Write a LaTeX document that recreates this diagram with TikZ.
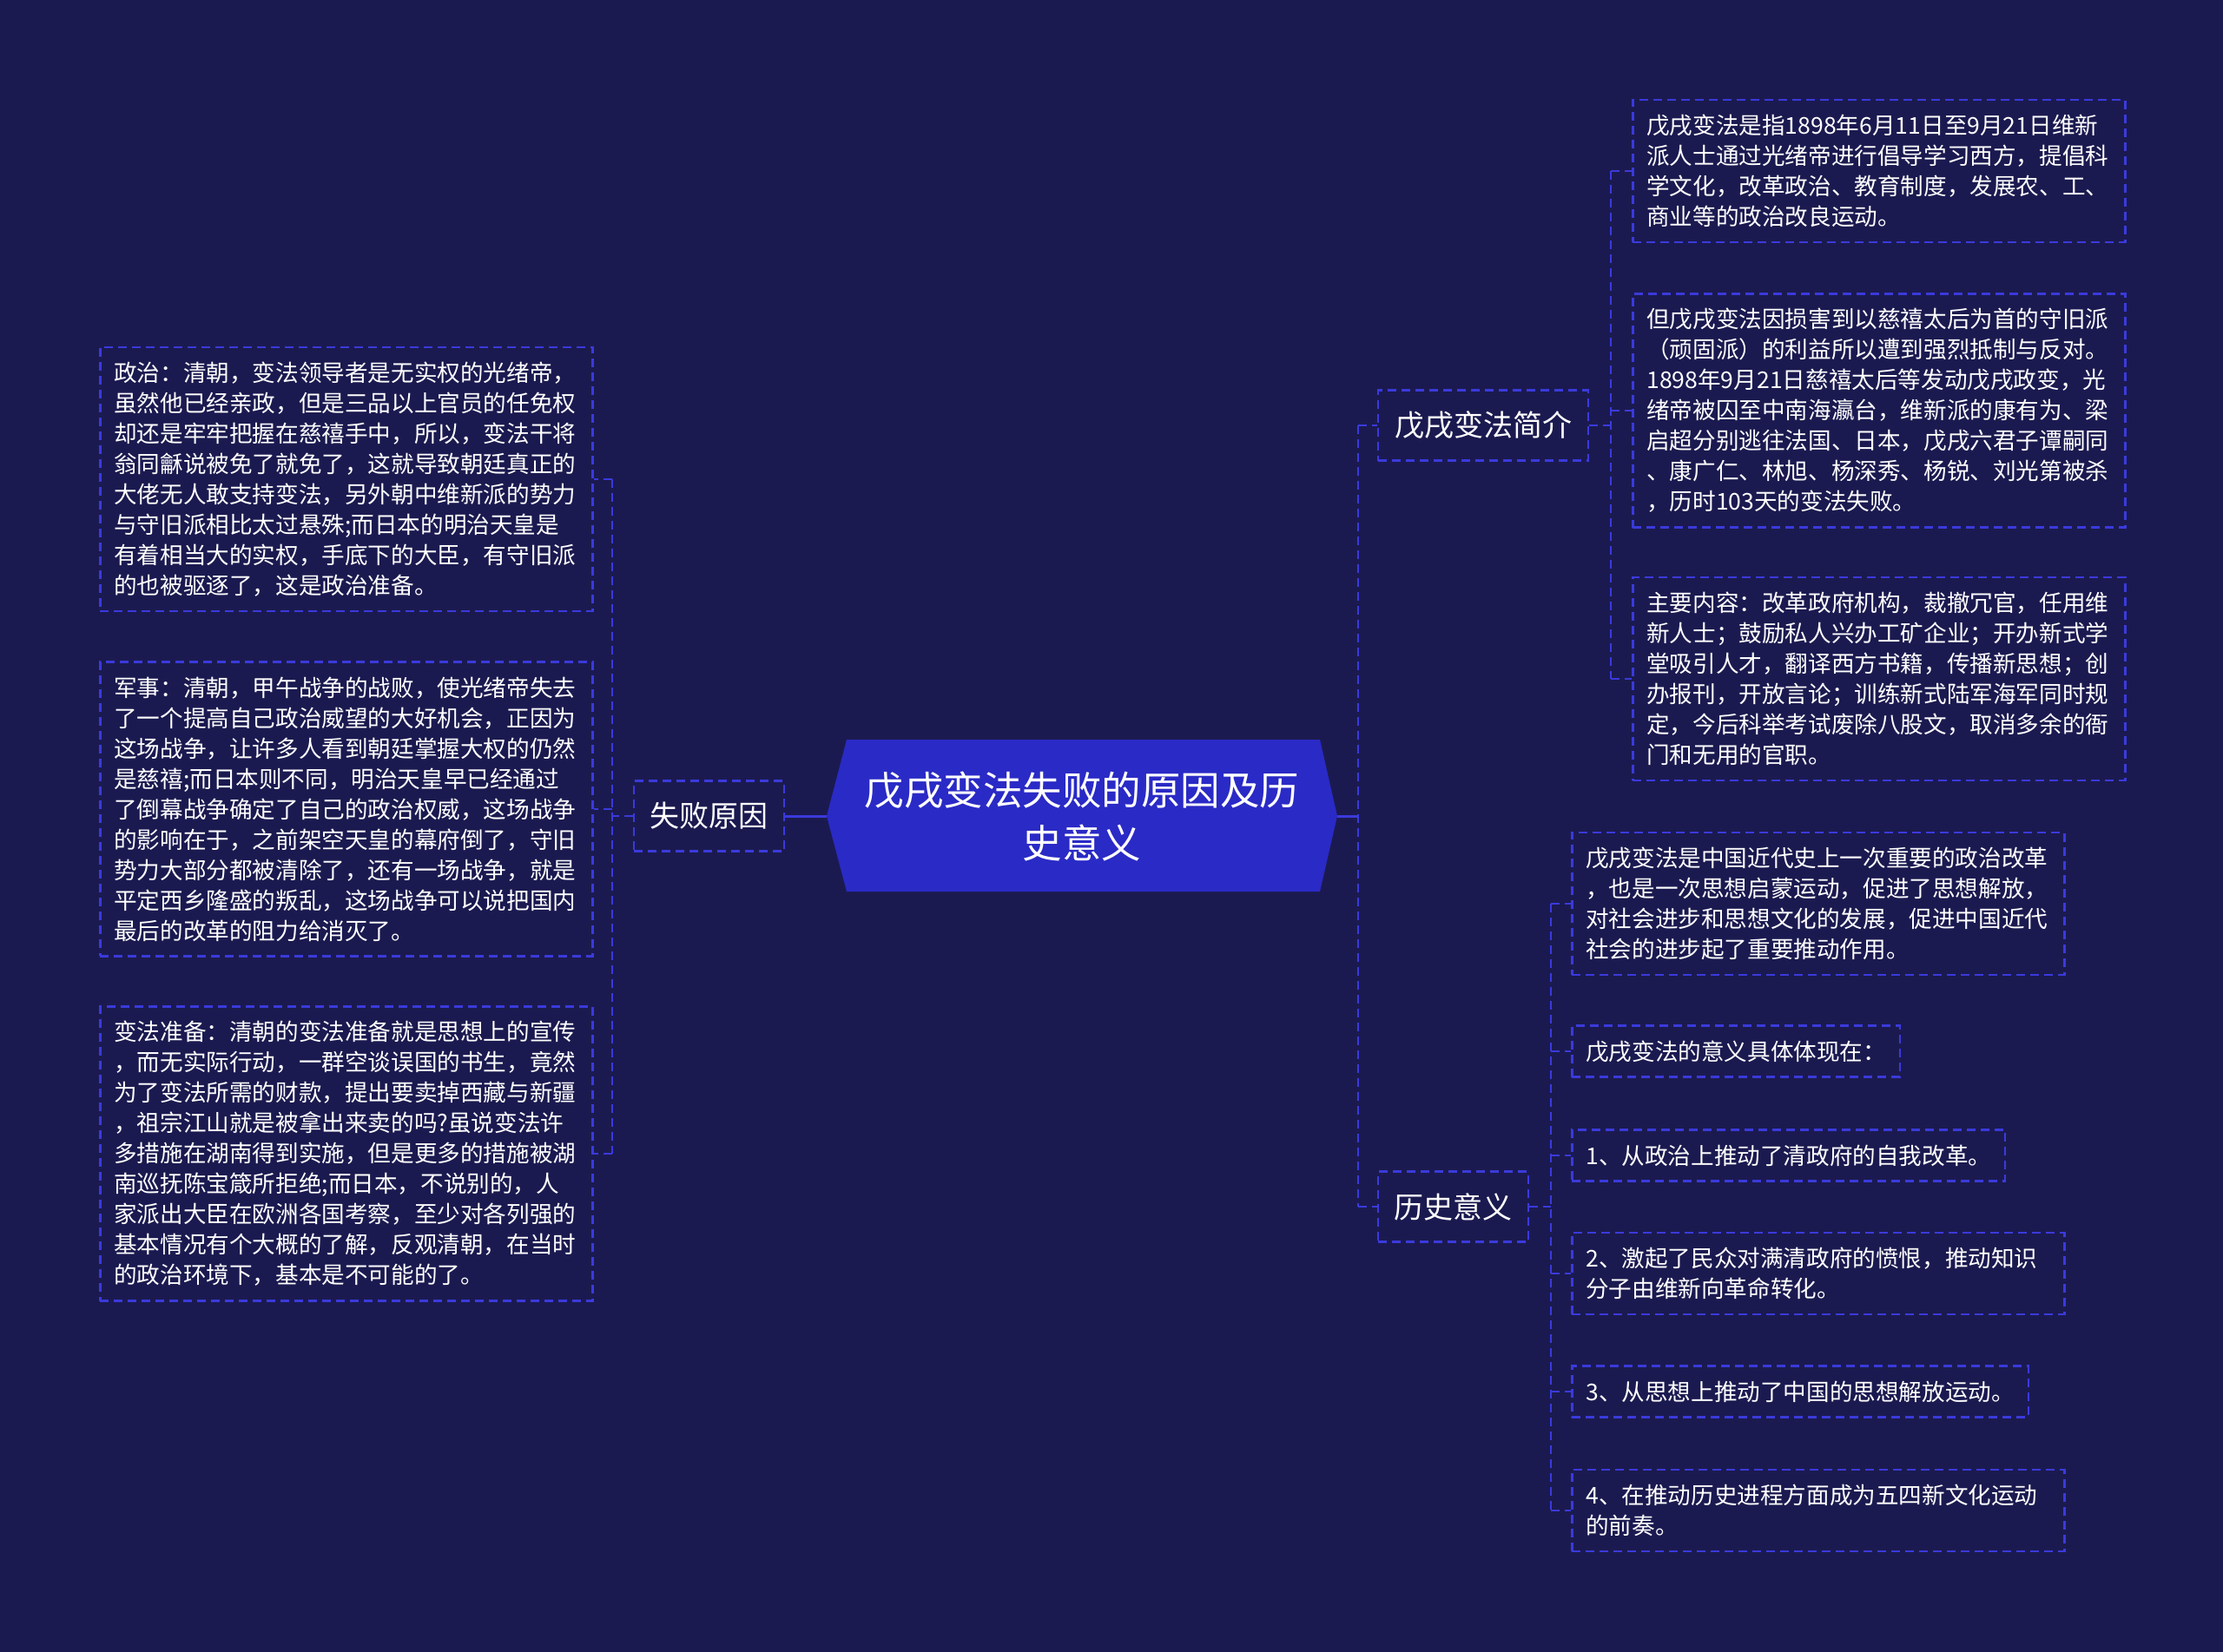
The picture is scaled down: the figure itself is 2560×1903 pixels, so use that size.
\documentclass[tikz,border=0pt]{standalone}
\usepackage{fontspec}
\newfontfamily\cjk{Noto Sans CJK SC}
\definecolor{bgc}{HTML}{1B1A50}
\definecolor{rootc}{HTML}{2A2AC6}
\definecolor{linec}{HTML}{3A3ADC}
\tikzset{
  conn/.style={draw=linec, line width=2.5pt, dash pattern=on 10pt off 6pt},
  solidconn/.style={draw=linec, line width=3pt},
  leafbox/.style={draw=linec, line width=2.5pt, dash pattern=on 10pt off 6pt, text=white,
    font=\cjk\fontsize{26.6}{35}\selectfont, inner xsep=16pt, inner ysep=17pt, align=left, anchor=west},
  multibox/.style={leafbox, text width=535pt},
  midbox/.style={draw=linec, line width=2.5pt, dash pattern=on 10pt off 6pt, text=white,
    font=\cjk\fontsize{34}{40}\selectfont, inner sep=0pt, minimum height=81pt},
  roottext/.style={text=white, font=\cjk\fontsize{45.5}{61}\selectfont, align=center, inner sep=0pt},
}
\begin{document}
\begin{tikzpicture}[x=1pt,y=-1pt]
\fill[bgc] (0,0) rectangle (2560,1903);
\useasboundingbox (0,0) rectangle (2560,1903);

% root hexagon
\coordinate (rootW) at (952,940);
\coordinate (rootNW) at (975,852);
\coordinate (rootNE) at (1520,852);
\coordinate (rootE) at (1540,940);
\coordinate (rootSE) at (1520,1027);
\coordinate (rootSW) at (975,1027);
\fill[rootc] (rootW) -- (rootNW) -- (rootNE) -- (rootE) -- (rootSE) -- (rootSW) -- cycle;
\node[roottext] (root) at (1246,940) {戊戌变法失败的原因及历\\史意义};

% level 1
\node[midbox, minimum width=173pt] (fail) at (816.5,940) {失败原因};
\node[midbox, minimum width=242pt] (intro) at (1708,490) {戊戌变法简介};
\node[midbox, minimum width=173pt] (hist) at (1673.5,1390) {历史意义};

% left leaves
\node[multibox] (L1) at (114,552) {政治：清朝，变法领导者是无实权的光绪帝，\\虽然他已经亲政，但是三品以上官员的任免权\\却还是牢牢把握在慈禧手中，所以，变法干将\\翁同龢说被免了就免了，这就导致朝廷真正的\\大佬无人敢支持变法，另外朝中维新派的势力\\与守旧派相比太过悬殊;而日本的明治天皇是\\有着相当大的实权，手底下的大臣，有守旧派\\的也被驱逐了，这是政治准备。};
\node[multibox] (L2) at (114,932) {军事：清朝，甲午战争的战败，使光绪帝失去\\了一个提高自己政治威望的大好机会，正因为\\这场战争，让许多人看到朝廷掌握大权的仍然\\是慈禧;而日本则不同，明治天皇早已经通过\\了倒幕战争确定了自己的政治权威，这场战争\\的影响在于，之前架空天皇的幕府倒了，守旧\\势力大部分都被清除了，还有一场战争，就是\\平定西乡隆盛的叛乱，这场战争可以说把国内\\最后的改革的阻力给消灭了。};
\node[multibox] (L3) at (114,1329) {变法准备：清朝的变法准备就是思想上的宣传\\，而无实际行动，一群空谈误国的书生，竟然\\为了变法所需的财款，提出要卖掉西藏与新疆\\，祖宗江山就是被拿出来卖的吗?虽说变法许\\多措施在湖南得到实施，但是更多的措施被湖\\南巡抚陈宝箴所拒绝;而日本，不说别的，人\\家派出大臣在欧洲各国考察，至少对各列强的\\基本情况有个大概的了解，反观清朝，在当时\\的政治环境下，基本是不可能的了。};

% intro leaves
\node[multibox] (R1) at (1879,197) {戊戌变法是指1898年6月11日至9月21日维新\\派人士通过光绪帝进行倡导学习西方，提倡科\\学文化，改革政治、教育制度，发展农、工、\\商业等的政治改良运动。};
\node[multibox] (R2) at (1879,473) {但戊戌变法因损害到以慈禧太后为首的守旧派\\（顽固派）的利益所以遭到强烈抵制与反对。\\1898年9月21日慈禧太后等发动戊戌政变，光\\绪帝被囚至中南海瀛台，维新派的康有为、梁\\启超分别逃往法国、日本，戊戌六君子谭嗣同\\、康广仁、林旭、杨深秀、杨锐、刘光第被杀\\，历时103天的变法失败。};
\node[multibox] (R3) at (1879,782) {主要内容：改革政府机构，裁撤冗官，任用维\\新人士；鼓励私人兴办工矿企业；开办新式学\\堂吸引人才，翻译西方书籍，传播新思想；创\\办报刊，开放言论；训练新式陆军海军同时规\\定，今后科举考试废除八股文，取消多余的衙\\门和无用的官职。};

% history leaves
\node[multibox] (H1) at (1809,1041) {戊戌变法是中国近代史上一次重要的政治改革\\，也是一次思想启蒙运动，促进了思想解放，\\对社会进步和思想文化的发展，促进中国近代\\社会的进步起了重要推动作用。};
\node[leafbox] (H2) at (1809,1211) {戊戌变法的意义具体体现在：};
\node[leafbox] (H3) at (1809,1331) {1、从政治上推动了清政府的自我改革。};
\node[multibox] (H4) at (1809,1467) {2、激起了民众对满清政府的愤恨，推动知识\\分子由维新向革命转化。};
\node[leafbox] (H5) at (1809,1603) {3、从思想上推动了中国的思想解放运动。};
\node[multibox] (H6) at (1809,1740) {4、在推动历史进程方面成为五四新文化运动\\的前奏。};

% connectors: root
\draw[solidconn] (fail.east) -- (rootW);
\coordinate (tR) at (1564,940);
\draw[solidconn] (rootE) -- (tR);
\draw[conn] (tR |- intro.west) -- (tR |- hist.west);
\draw[conn] (tR |- intro.west) -- (intro.west);
\draw[conn] (tR |- hist.west) -- (hist.west);

% left
\coordinate (tL) at (705,940);
\draw[conn] (fail.west) -- (tL);
\draw[conn] (tL |- L1.east) -- (tL |- L3.east);
\draw[conn] (tL |- L1.east) -- (L1.east);
\draw[conn] (tL |- L2.east) -- (L2.east);
\draw[conn] (tL |- L3.east) -- (L3.east);

% intro children
\coordinate (tI) at (1855,490);
\draw[conn] (intro.east) -- (tI);
\draw[conn] (tI |- R1.west) -- (tI |- R3.west);
\draw[conn] (tI |- R1.west) -- (R1.west);
\draw[conn] (tI |- R2.west) -- (R2.west);
\draw[conn] (tI |- R3.west) -- (R3.west);

% history children
\coordinate (tH) at (1786,1390);
\draw[conn] (hist.east) -- (tH);
\draw[conn] (tH |- H1.west) -- (tH |- H6.west);
\draw[conn] (tH |- H1.west) -- (H1.west);
\draw[conn] (tH |- H2.west) -- (H2.west);
\draw[conn] (tH |- H3.west) -- (H3.west);
\draw[conn] (tH |- H4.west) -- (H4.west);
\draw[conn] (tH |- H5.west) -- (H5.west);
\draw[conn] (tH |- H6.west) -- (H6.west);
\end{tikzpicture}
\end{document}
